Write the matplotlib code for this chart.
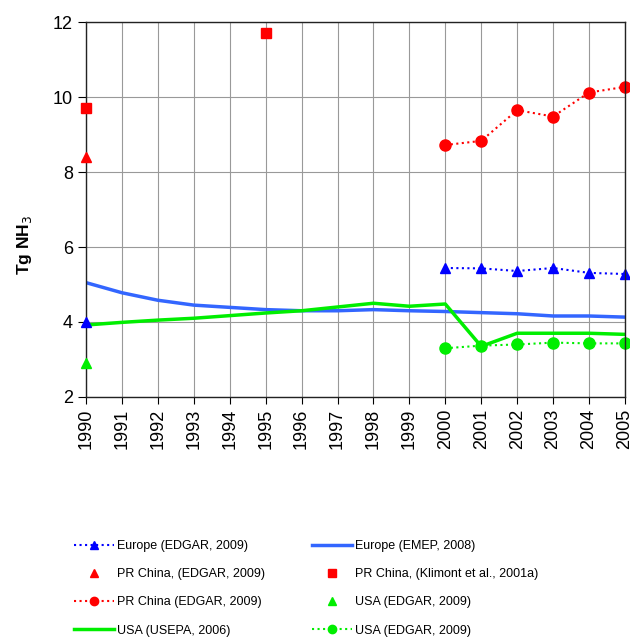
import numpy as np
import matplotlib
matplotlib.use("Agg")
import matplotlib.pyplot as plt

plt.rcParams['font.family'] = ['Liberation Sans', 'DejaVu Sans']

years = list(range(1990, 2006))
years_edgar = list(range(2000, 2006))

# Europe
europe_emep = [5.05, 4.78, 4.58, 4.45, 4.39, 4.33, 4.30, 4.30, 4.33, 4.30,
               4.28, 4.25, 4.22, 4.16, 4.16, 4.13]
europe_edgar = [5.44, 5.43, 5.36, 5.44, 5.31, 5.28]
europe_edgar_1990 = 4.0

# PR China
china_edgar = [8.72, 8.83, 9.65, 9.48, 10.12, 10.27]
china_edgar_1990 = 8.4
china_klimont_years = [1990, 1995]
china_klimont = [9.7, 11.7]

# USA
usa_usepa = [3.92, 3.99, 4.05, 4.10, 4.17, 4.24, 4.30, 4.40, 4.50, 4.42,
             4.48, 3.35, 3.70, 3.70, 3.70, 3.67]
usa_edgar = [3.30, 3.37, 3.40, 3.45, 3.43, 3.43]
usa_edgar_1990 = 2.9

fig = plt.figure(figsize=(6.3, 6.4), dpi=100)
ax = fig.add_axes([0.1365, 0.3797, 0.8555, 0.5859])

h_eu_edgar, = ax.plot(years_edgar, europe_edgar, color="blue", linestyle=":",
                      linewidth=1.5, marker="^", markersize=7,
                      clip_on=False, label="Europe (EDGAR, 2009)")
ax.plot([1990], [europe_edgar_1990], color="blue", marker="^", markersize=7,
        linestyle="none", clip_on=False, zorder=5)
h_eu_emep, = ax.plot(years, europe_emep, color="#3366ff", linewidth=2.5,
                     label="Europe (EMEP, 2008)")
h_cn_tri, = ax.plot([1990], [china_edgar_1990], color="red", marker="^",
                    markersize=7, linestyle="none", clip_on=False, zorder=5,
                    label="PR China, (EDGAR, 2009)")
h_cn_klim, = ax.plot(china_klimont_years, china_klimont, color="red",
                     marker="s", markersize=7, linestyle="none",
                     clip_on=False, zorder=5,
                     label="PR China, (Klimont et al., 2001a)")
h_cn_edgar, = ax.plot(years_edgar, china_edgar, color="red", linestyle=":",
                      linewidth=1.5, marker="o", markersize=8, clip_on=False,
                      label="PR China (EDGAR, 2009)")
h_us_tri, = ax.plot([1990], [usa_edgar_1990], color="#00ee00", marker="^",
                    markersize=7, linestyle="none", clip_on=False, zorder=5,
                    label="USA (EDGAR, 2009)")
h_us_epa, = ax.plot(years, usa_usepa, color="#00ee00", linewidth=2.5,
                    label="USA (USEPA, 2006)")
h_us_edgar, = ax.plot(years_edgar, usa_edgar, color="#00ee00", linestyle=":",
                      linewidth=1.5, marker="o", markersize=8, clip_on=False,
                      label="USA (EDGAR, 2009)")

ax.set_xlim(1990, 2005)
ax.set_ylim(2, 12)
ax.set_xticks(years)
ax.set_xticklabels([str(y) for y in years], rotation=90, fontsize=13)
ax.set_yticks([2, 4, 6, 8, 10, 12])
ax.tick_params(axis='y', labelsize=13, direction='out', length=6)
ax.tick_params(axis='x', direction='out', length=5)
ax.grid(True, color="#999999", linewidth=0.8)
ax.set_axisbelow(True)
for s in ax.spines.values():
    s.set_color("#222222")
    s.set_linewidth(1.0)
ax.set_ylabel("Tg NH$_3$", fontsize=12.5, fontweight="bold")
ax.yaxis.set_label_coords(-0.096, 0.405)

# legend filled column by column
handles = [h_eu_edgar, h_cn_tri, h_cn_edgar, h_us_epa,
           h_eu_emep, h_cn_klim, h_us_tri, h_us_edgar]
fig.legend(handles=handles, labels=[h.get_label() for h in handles],
           ncol=2, loc="upper left", bbox_to_anchor=(0.1, 0.174),
           frameon=False, fontsize=9, handlelength=3.2, handletextpad=0.25,
           labelspacing=1.3, columnspacing=3.7, markerscale=0.75)

fig.savefig("out.png", dpi=100)
